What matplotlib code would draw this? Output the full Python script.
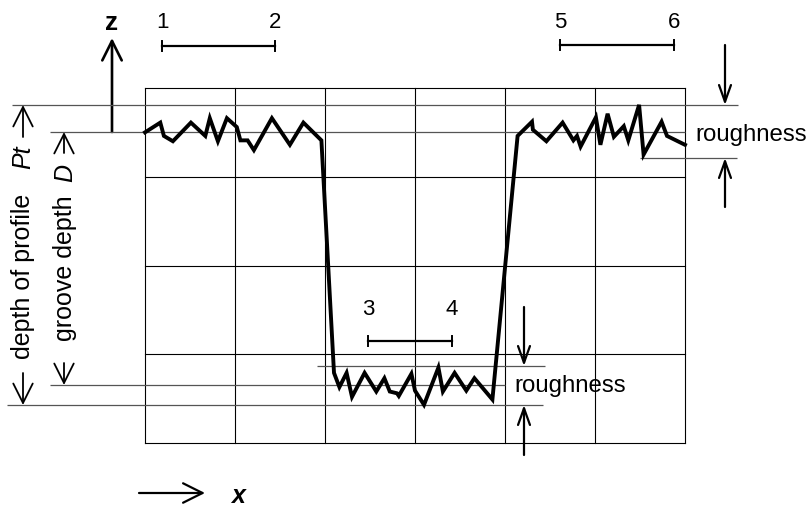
import matplotlib
matplotlib.use('Agg')
import matplotlib.pyplot as plt
from matplotlib.patches import FancyArrowPatch

plt.rcParams['font.family'] = ['Liberation Sans', 'DejaVu Sans']

# surface profile (x and z in grid cells)
profile_x = [0.00, 0.17, 0.21, 0.31, 0.51, 0.67, 0.72, 0.81, 0.91, 1.02, 1.06, 1.14,
             1.21, 1.41, 1.61, 1.76, 1.96,
             2.10, 2.16, 2.24, 2.30, 2.44, 2.57, 2.66, 2.72, 2.80, 2.82, 2.96, 3.00,
             3.10, 3.26, 3.31, 3.44, 3.57, 3.66, 3.86,
             4.14, 4.30, 4.31, 4.46, 4.64, 4.76, 4.80, 4.84, 5.01, 5.06, 5.14, 5.21,
             5.32, 5.37, 5.49, 5.54, 5.74, 5.80, 6.00]
profile_z = [3.50, 3.61, 3.46, 3.40, 3.61, 3.46, 3.66, 3.40, 3.66, 3.56, 3.41, 3.41,
             3.30, 3.66, 3.36, 3.61, 3.41,
             0.79, 0.63, 0.79, 0.52, 0.79, 0.58, 0.73, 0.58, 0.56, 0.53, 0.78, 0.59,
             0.43, 0.85, 0.58, 0.79, 0.59, 0.73, 0.49,
             3.46, 3.62, 3.53, 3.40, 3.61, 3.41, 3.46, 3.34, 3.67, 3.36, 3.71, 3.45,
             3.57, 3.41, 3.81, 3.25, 3.62, 3.46, 3.36]

# sampling length markers
mark_labels = ['1', '2', '3', '4', '5', '6']
mark_x = [0.19, 1.44, 2.48, 3.41, 4.61, 5.88]

n_cols = 6
n_rows = 4

# reference levels (grid cells)
z_peak = 3.81
z_top = 3.50
z_top_low = 3.21
z_bot_high = 0.87
z_bot = 0.65
z_valley = 0.43

# pixel layout of the grid
X0, DX = 145, 90.0
Z0, DZ = 443, 88.75


def ux(px):
    return (px - X0) / DX


def uz(py):
    return (Z0 - py) / DZ


fig = plt.figure(figsize=(8.12, 5.08), dpi=100)
ax = fig.add_axes([0, 0, 1, 1])
ax.set_xlim(ux(0), ux(812))
ax.set_ylim(uz(508), uz(0))
ax.axis('off')

# grid
for i in range(n_cols + 1):
    ax.plot([i, i], [0, n_rows], color='black', lw=0.8)
for j in range(n_rows + 1):
    ax.plot([0, n_cols], [j, j], color='black', lw=0.8)

# reference lines
ref_col = '#555555'
ax.hlines(z_peak, ux(12), ux(738), color=ref_col, lw=0.9)
ax.hlines(z_top, ux(50), ux(685), color=ref_col, lw=0.9)
ax.hlines(z_top_low, ux(640), ux(737), color=ref_col, lw=0.9)
ax.hlines(z_bot_high, ux(317), ux(545), color=ref_col, lw=0.9)
ax.hlines(z_bot, ux(50), ux(505), color=ref_col, lw=0.9)
ax.hlines(z_valley, ux(7), ux(543), color=ref_col, lw=0.9)

# profile
ax.plot(profile_x, profile_z, color='black', lw=2.8, solid_joinstyle='miter')


def arrow(x0, y0, x1, y1, hl, hw, lw=1.4):
    ax.add_patch(FancyArrowPatch((ux(x0), uz(y0)), (ux(x1), uz(y1)),
                                 arrowstyle='->,head_length=%g,head_width=%g' % (hl, hw),
                                 mutation_scale=1, shrinkA=0, shrinkB=0,
                                 lw=lw, color='black'))


# z axis and x direction
arrow(112, 132, 112, 38, 14, 7, lw=1.9)
ax.text(ux(112), uz(30), 'z', fontsize=19, fontweight='bold', ha='center', va='baseline')
arrow(139, 493, 205, 493, 14, 7, lw=1.6)
ax.text(ux(238), uz(503), 'x', fontsize=18, fontweight='bold', fontstyle='italic',
        ha='center', va='baseline')

# sampling length bars
bar_y = [46, 341, 45]
lab_y = [28, 315, 28]
for k in range(3):
    xa, xb = mark_x[2 * k], mark_x[2 * k + 1]
    yb = uz(bar_y[k])
    ax.plot([xa, xb], [yb, yb], color='black', lw=1.6)
    for xx in (xa, xb):
        ax.plot([xx, xx], [yb - 0.055, yb + 0.055], color='black', lw=1.4)
        lab = mark_labels[mark_x.index(xx)]
        ax.text(xx, uz(lab_y[k]), lab, fontsize=16, ha='center', va='baseline')

# depth of profile / groove depth
arrow(23, 137, 23, 105, 14, 7, lw=1.3)
arrow(23, 373, 23, 405, 14, 7, lw=1.3)
ax.text(ux(23), uz(157), 'Pt', fontsize=18, fontstyle='italic', rotation=90,
        ha='center', va='center')
ax.text(ux(23), uz(276), 'depth of profile', fontsize=18, rotation=90,
        ha='center', va='center')
arrow(64, 153, 64, 132, 14, 7, lw=1.3)
arrow(64, 363, 64, 385, 14, 7, lw=1.3)
ax.text(ux(65), uz(173), 'D', fontsize=18, fontstyle='italic', rotation=90,
        ha='center', va='center')
ax.text(ux(65), uz(268), 'groove depth', fontsize=18, rotation=90,
        ha='center', va='center')

# roughness markers
arrow(725, 45, 725, 105, 12, 4.3, lw=1.6)
arrow(725, 207, 725, 158, 12, 4.3, lw=1.6)
ax.text(ux(695), uz(141), 'roughness', fontsize=17.3, ha='left', va='baseline')
arrow(524, 307, 524, 366, 12, 4.3, lw=1.6)
arrow(524, 455, 524, 405, 12, 4.3, lw=1.6)
ax.text(ux(514), uz(392), 'roughness', fontsize=17.3, ha='left', va='baseline')

fig.savefig('out.png', dpi=100)
